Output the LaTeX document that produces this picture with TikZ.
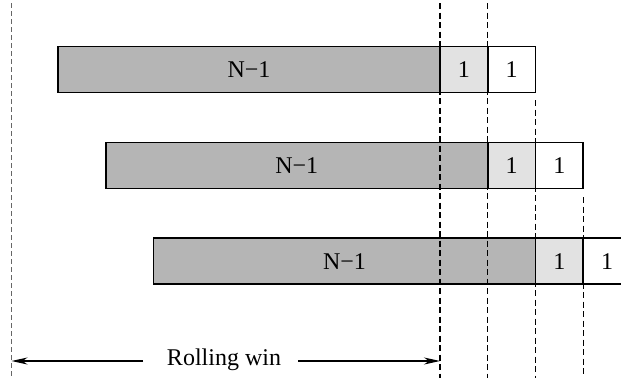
\documentclass[tikz,border=0pt]{standalone}
\usepackage{fontspec}
\setmainfont{Liberation Serif}
\usetikzlibrary{arrows.meta}
\definecolor{darkcell}{RGB}{181,181,181}
\definecolor{lightcell}{RGB}{226,226,226}
\tikzset{
  cellbox/.style={draw=black, line width=1.8pt, rectangle, inner sep=0pt,
    minimum height=46pt, font=\fontsize{24}{28}\selectfont},
  longcell/.style={cellbox, fill=darkcell, minimum width=382pt},
  litecell/.style={cellbox, fill=lightcell, minimum width=47.75pt},
  whitecell/.style={cellbox, fill=white, minimum width=47.75pt},
  guide/.style={line width=1.4pt, dash pattern=on 6pt off 3.5pt},
  edgeguide/.style={line width=0.8pt, draw=black!60, dash pattern=on 5pt off 3pt},
  winarrow/.style={line width=1.2pt, -{Stealth[length=16pt,width=7pt,inset=5pt]}},
  lbl/.style={font=\fontsize{24}{28}\selectfont, inner sep=0pt}
}
\begin{document}
\begin{tikzpicture}[x=1pt,y=-1pt]
\useasboundingbox (0,0) rectangle (621,383);
\clip (0,0) rectangle (621,383);
% row 1
\node[longcell]  (r1n) at (249,69.5) {N−1};
\node[litecell]  (r1a) at (463.9,69.5) {1};
\node[whitecell] (r1b) at (511.6,69.5) {1};
% row 2
\node[longcell]  (r2n) at (296.75,165.5) {N−1};
\node[litecell]  (r2a) at (511.6,165.5) {1};
\node[whitecell] (r2b) at (559.4,165.5) {1};
% row 3
\node[longcell]  (r3n) at (344.5,261.3) {N−1};
\node[litecell]  (r3a) at (559.4,261.3) {1};
\node[whitecell] (r3b) at (607.1,261.3) {1};
% guide lines
\coordinate (g0t) at (11,3);    \coordinate (g0b) at (11,378);
\coordinate (g1t) at (440,3);   \coordinate (g1b) at (440,378);
\coordinate (g2t) at (487.75,3); \coordinate (g2b) at (487.75,378);
\coordinate (g3t) at (535.5,100); \coordinate (g3b) at (535.5,378);
\coordinate (g4t) at (583.25,197); \coordinate (g4b) at (583.25,377);
\draw[edgeguide] (g0t) -- (g0b);
\draw[guide] (g1t) -- (g1b);
\draw[guide] (g2t) -- (g2b);
\draw[guide] (g3t) -- (g3b);
\draw[guide] (g4t) -- (g4b);
% rolling window
\node[lbl] (win) at (224,360) {Rolling win};
\coordinate (la) at (143,361); \coordinate (lt) at (11.5,361);
\coordinate (ra) at (298,361); \coordinate (rt) at (440,361);
\draw[winarrow] (la) -- (lt);
\draw[winarrow] (ra) -- (rt);
\end{tikzpicture}
\end{document}
